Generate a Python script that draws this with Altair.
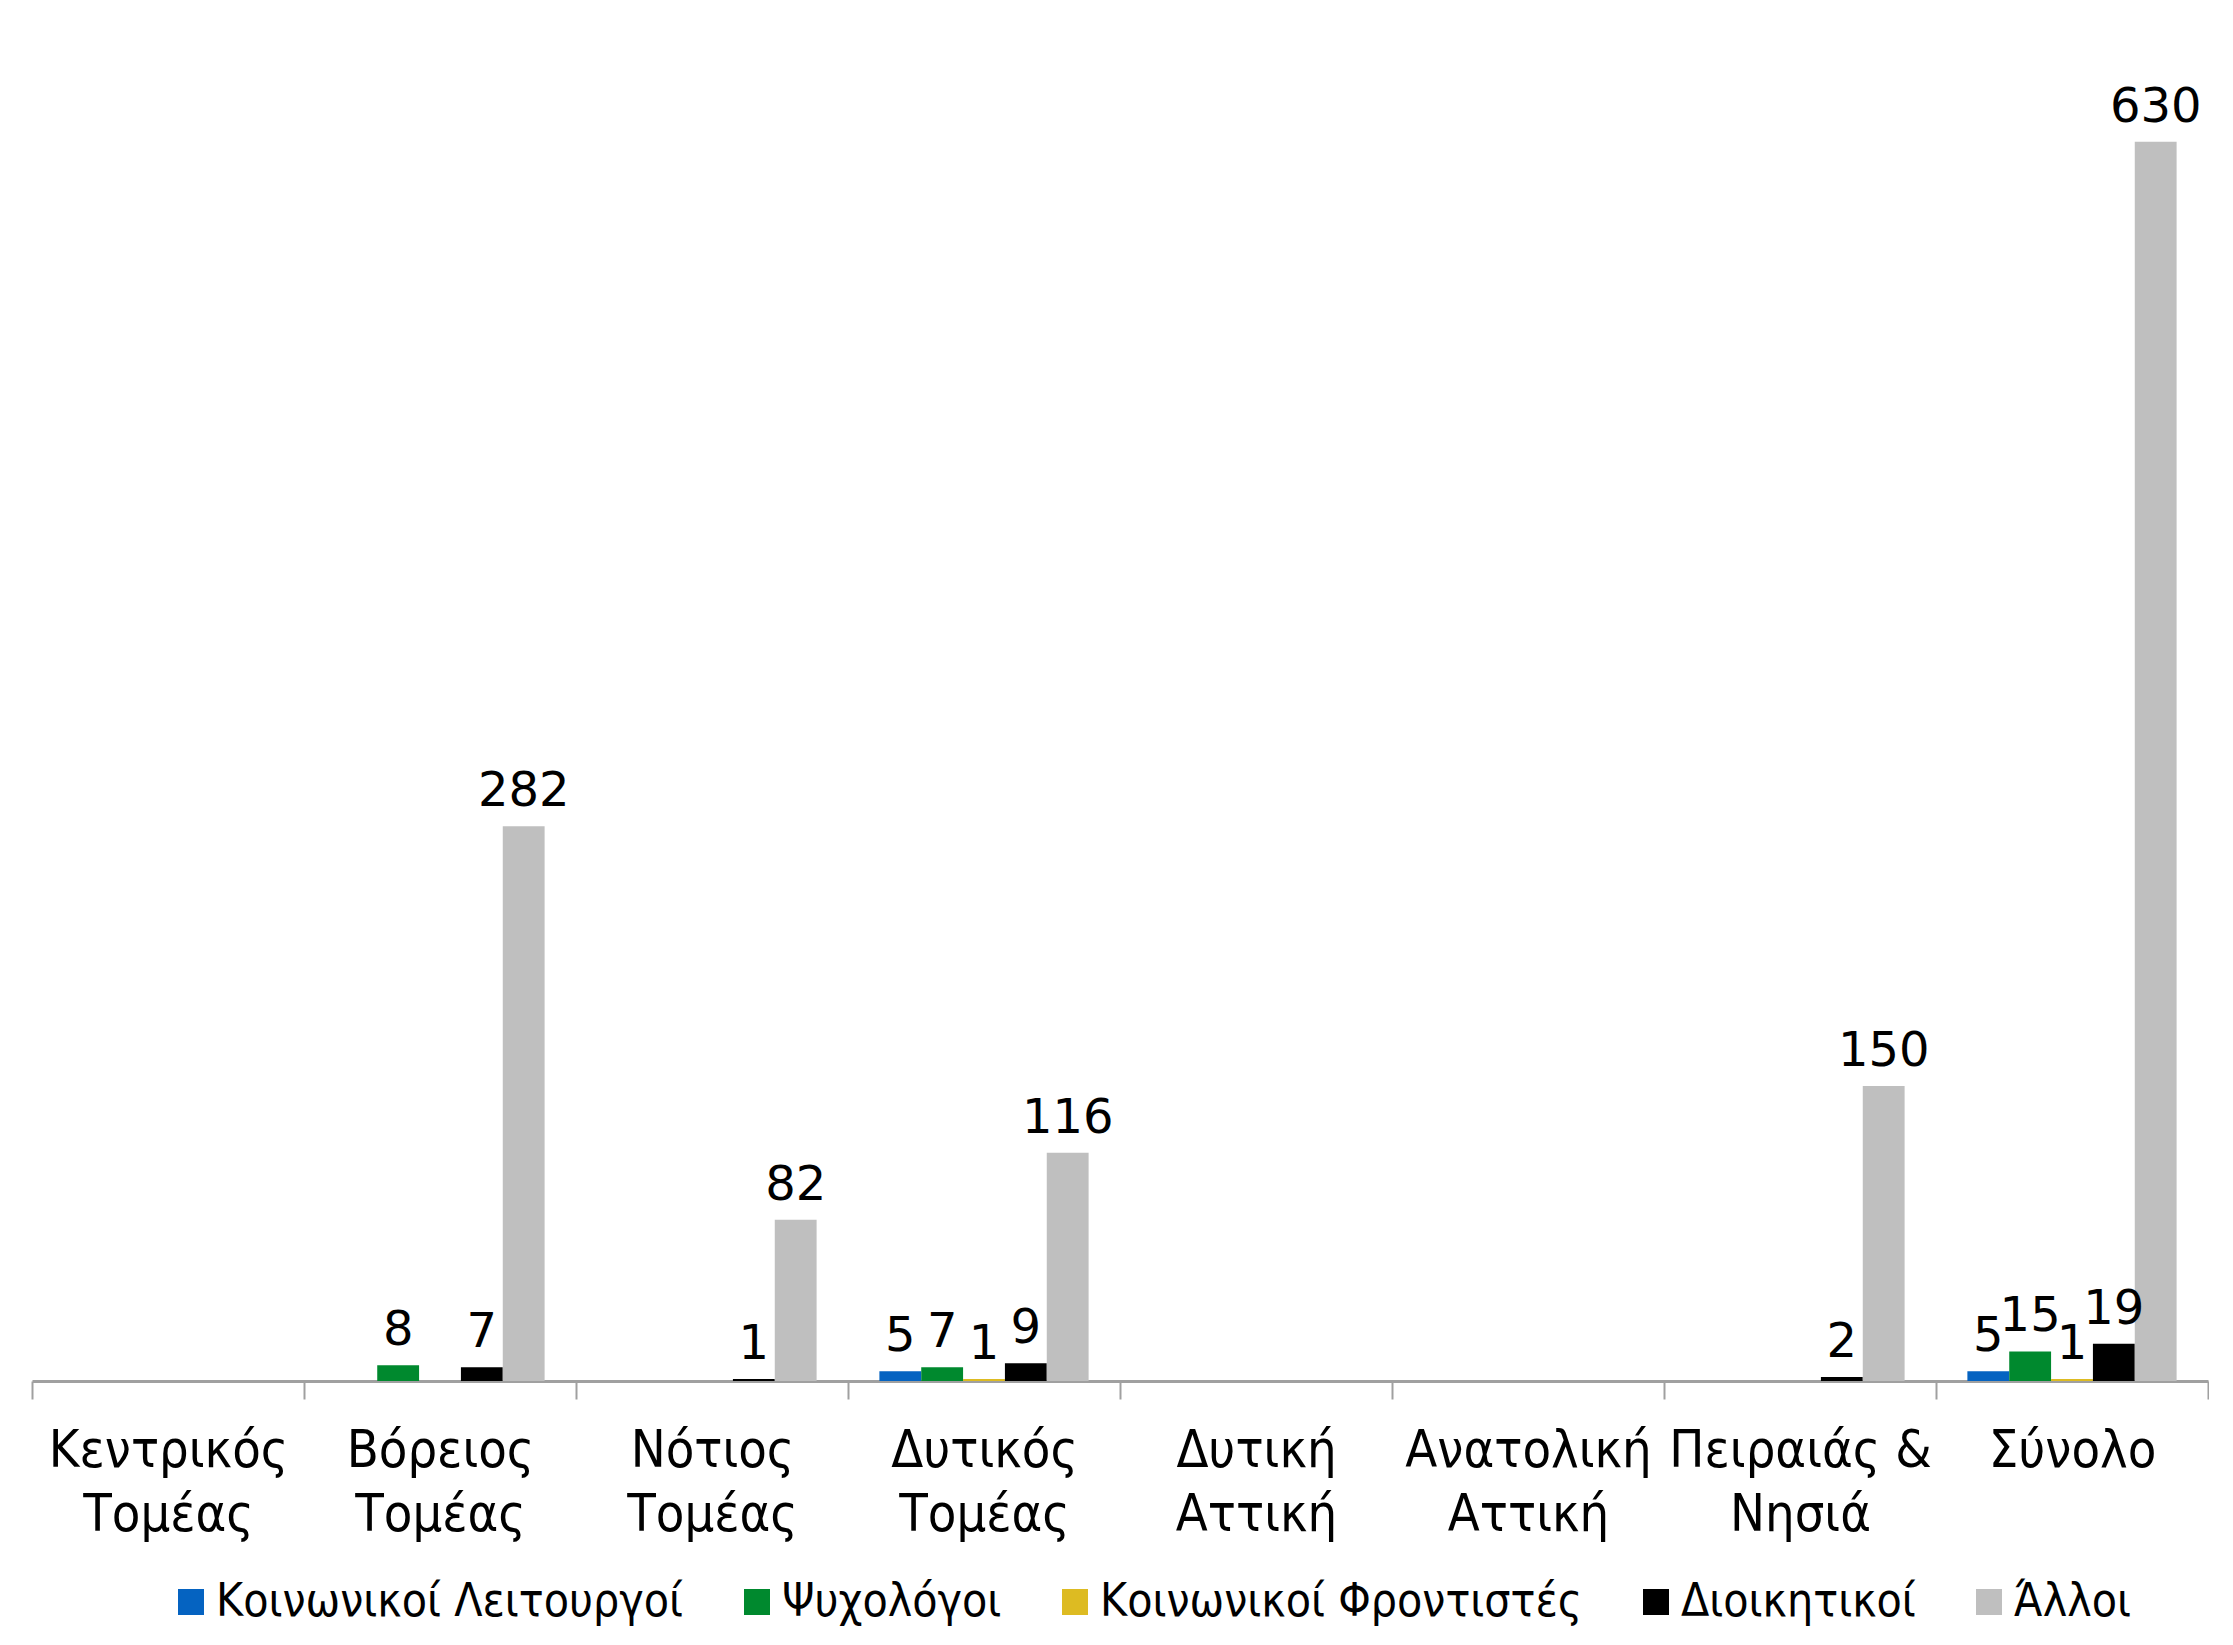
import altair as alt
import pandas as pd

categories = ["Κεντρικός Τομέας", "Βόρειος Τομέας", "Νότιος Τομέας", "Δυτικός Τομέας",
              "Δυτική Αττική", "Ανατολική Αττική", "Πειραιάς & Νησιά", "Σύνολο"]
series = ["Κοινωνικοί Λειτουργοί", "Ψυχολόγοι", "Κοινωνικοί Φροντιστές", "Διοικητικοί", "Άλλοι"]
colors = ["#0563C1", "#00892E", "#DDBB22", "#000000", "#BFBFBF"]

kl = [0, 0, 0, 5, 0, 0, 0, 5]
psy = [0, 8, 0, 7, 0, 0, 0, 15]
kf = [0, 0, 0, 1, 0, 0, 0, 1]
dioik = [0, 7, 1, 9, 0, 0, 2, 19]
alloi = [0, 282, 82, 116, 0, 0, 150, 630]

rows = []
for s, vals in zip(series, [kl, psy, kf, dioik, alloi]):
    for c, v in zip(categories, vals):
        if v > 0:
            rows.append({"cat": c, "series": s, "value": v})
df = pd.DataFrame(rows)

label_expr = ("!isValid(datum.value) ? '' : "
              "(datum.value == 'Πειραιάς & Νησιά' ? ['Πειραιάς &', 'Νησιά'] : "
              "split(datum.value, ' '))")

x = alt.X("cat:N", sort=categories,
          scale=alt.Scale(domain=categories, paddingInner=0, paddingOuter=0),
          axis=alt.Axis(title=None, labelAngle=0, tickBand="extent",
                        domainColor="#a0a0a0", domainWidth=3,
                        tickColor="#a0a0a0", tickWidth=2, tickSize=18,
                        labelFont="DejaVu Sans Condensed", labelFontSize=52,
                        labelColor="#000000", labelPadding=26, labelLineHeight=64,
                        labelExpr=label_expr, labelLimit=400))
xo = alt.XOffset("series:N", sort=series,
                 scale=alt.Scale(domain=series, paddingInner=0, paddingOuter=0.75))
y = alt.Y("value:Q", scale=alt.Scale(domain=[0, 695.5], nice=False), axis=None)

base = alt.Chart(df)

bars = base.mark_bar().encode(
    x=x, xOffset=xo, y=y,
    color=alt.Color("series:N", sort=series,
                    scale=alt.Scale(domain=series, range=colors),
                    legend=alt.Legend(title=None, orient="none", direction="horizontal",
                                      legendX=136, legendY=1566,
                                      symbolType="square", symbolSize=676,
                                      symbolStrokeWidth=0, labelOffset=2,
                                      labelFont="DejaVu Sans Condensed", labelFontSize=46,
                                      labelColor="#000000", labelLimit=800,
                                      columnPadding=50)),
)

labels = base.mark_text(font="DejaVu Sans", fontSize=48, color="#000000",
                        baseline="alphabetic", dy=-20).encode(
    x=x, xOffset=xo, y=y, text=alt.Text("value:Q"))

chart = (bars + labels).properties(
    width=2176, height=1368,
    padding={"left": 23, "top": 5, "right": 0, "bottom": 5},
).configure_view(strokeWidth=0)

chart.save("out.html", embed_options={"renderer": "svg", "actions": False})
